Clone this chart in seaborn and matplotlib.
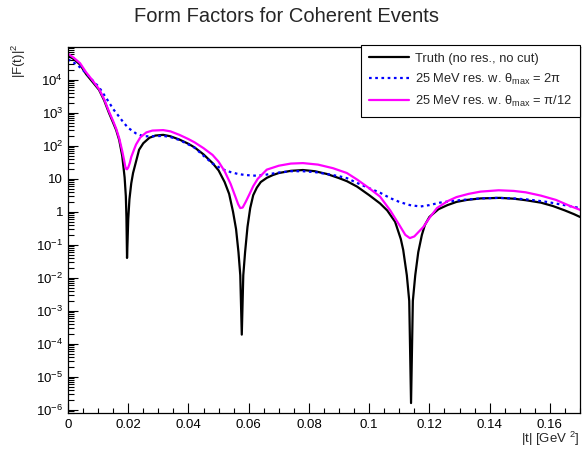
import numpy as np
import pandas as pd
import matplotlib
matplotlib.use("Agg")
import matplotlib.pyplot as plt
import matplotlib.ticker as mticker
import seaborn as sns

# values (|t| in GeV^2, |F(t)|^2)
t_truth = [0.000, 0.002, 0.004, 0.006, 0.008, 0.0103, 0.012, 0.0136, 0.015, 0.016,
           0.017, 0.018, 0.0188, 0.0192, 0.0194, 0.0196, 0.0198, 0.0200, 0.0204, 0.021,
           0.0216, 0.0236, 0.025, 0.027, 0.029, 0.0316, 0.034, 0.037, 0.040, 0.042,
           0.045, 0.048, 0.050, 0.052, 0.0535, 0.0548, 0.0558, 0.0566, 0.0572, 0.0577,
           0.0582, 0.0588, 0.0596, 0.0605, 0.0615, 0.0627, 0.064, 0.066, 0.068, 0.070,
           0.074, 0.078, 0.082, 0.086, 0.090, 0.0926, 0.096, 0.100, 0.1036, 0.106,
           0.1086, 0.1105, 0.1113, 0.1125, 0.1133, 0.1139, 0.1145, 0.1153, 0.1163, 0.1175,
           0.1185, 0.120, 0.123, 0.126, 0.129, 0.1325, 0.137, 0.1434, 0.148, 0.152,
           0.157, 0.161, 0.165, 0.168, 0.170]
f_truth = [5.5e4, 4.2e4, 2.9e4, 1.5e4, 9.0e3, 5.0e3, 2.4e3, 1.0e3, 500, 300,
           150, 50, 11, 3.0, 0.7, 0.04, 0.15, 0.6, 2.4, 7.3,
           15, 76, 120, 175, 205, 215, 195, 155, 115, 90,
           55, 30, 18, 8, 3.5, 1.0, 0.3, 0.06, 0.012, 1.9e-4,
           0.012, 0.06, 0.35, 1.3, 3.2, 5.4, 8, 10.7, 13, 15,
           17.5, 18.5, 17, 14, 10.5, 8.5, 5.8, 3.2, 1.8, 1.1,
           0.5, 0.15, 0.07, 0.012, 2e-3, 1.6e-6, 2e-3, 0.012, 0.06, 0.2,
           0.4, 0.7, 1.2, 1.6, 2.0, 2.3, 2.55, 2.65, 2.5, 2.25,
           1.9, 1.5, 1.1, 0.85, 0.7]

t_blue = [0.000, 0.002, 0.004, 0.006, 0.008, 0.0103, 0.012, 0.0136, 0.015, 0.017,
          0.0185, 0.020, 0.0225, 0.025, 0.028, 0.0316, 0.034, 0.037, 0.040, 0.042,
          0.045, 0.048, 0.051, 0.054, 0.0565, 0.059, 0.062, 0.065, 0.068, 0.070,
          0.074, 0.078, 0.082, 0.086, 0.090, 0.0926, 0.096, 0.100, 0.1036, 0.107,
          0.110, 0.1135, 0.117, 0.120, 0.1235, 0.127, 0.131, 0.137, 0.1425, 0.148,
          0.153, 0.159, 0.164, 0.170]
f_blue = [4.2e4, 3.3e4, 2.4e4, 1.6e4, 1.0e4, 6.0e3, 3.5e3, 2.1e3, 1.3e3, 760,
          500, 350, 240, 195, 195, 200, 185, 150, 110, 88,
          50, 29, 20, 16, 14, 13, 12.5, 13, 14.5, 15.5,
          17, 17, 16, 14, 12, 10.5, 7.5, 5.2, 3.8, 2.6,
          2.0, 1.6, 1.45, 1.6, 1.9, 2.1, 2.3, 2.55, 2.65, 2.55,
          2.35, 2.0, 1.65, 1.3]

t_pink = [0.000, 0.002, 0.004, 0.006, 0.008, 0.0103, 0.012, 0.0136, 0.015, 0.016,
          0.017, 0.018, 0.0186, 0.019, 0.0193, 0.0196, 0.020, 0.0205, 0.021, 0.022,
          0.0226, 0.024, 0.026, 0.028, 0.0316, 0.034, 0.037, 0.040, 0.042, 0.045,
          0.048, 0.050, 0.052, 0.054, 0.0555, 0.0565, 0.0572, 0.058, 0.059, 0.0603,
          0.0615, 0.063, 0.066, 0.070, 0.074, 0.078, 0.083, 0.088, 0.0926, 0.096,
          0.100, 0.1036, 0.107, 0.110, 0.112, 0.1135, 0.115, 0.118, 0.120, 0.1225,
          0.126, 0.129, 0.133, 0.137, 0.143, 0.148, 0.152, 0.157, 0.162, 0.166,
          0.170]
f_pink = [6.2e4, 4.6e4, 3.2e4, 1.7e4, 1.0e4, 5.3e3, 2.6e3, 1.1e3, 560, 330,
          170, 70, 38, 24, 20, 19.5, 22, 30, 46, 80,
          110, 180, 255, 290, 300, 275, 215, 160, 128, 85,
          53, 33, 17, 7, 3, 1.7, 1.3, 1.35, 2.0, 3.5,
          6, 10, 19, 25, 29, 30, 27, 21, 15, 9.5,
          5.2, 2.9, 1.1, 0.4, 0.2, 0.16, 0.18, 0.35, 0.65, 1.3,
          2.1, 2.8, 3.5, 4.1, 4.5, 4.3, 3.9, 3.1, 2.3, 1.6,
          1.15]

labels = ["Truth (no res., no cut)",
          "25 MeV res. w. θ$_{\\rm max}$ = 2π",
          "25 MeV res. w. θ$_{\\rm max}$ = π/12"]
y_decades = [-6, -5, -4, -3, -2, -1, 0, 1, 2, 3, 4]

sns.set_theme(style="white")
plt.rcParams["font.family"] = ["Liberation Sans", "DejaVu Sans"]
plt.rcParams["mathtext.fontset"] = "custom"
plt.rcParams["mathtext.rm"] = "Liberation Sans"
plt.rcParams["mathtext.default"] = "regular"

fig = plt.figure(figsize=(5.83, 4.49), dpi=100)
ax = fig.add_axes([68 / 583, 1 - 413 / 449, 512 / 583, 366 / 449])

sns.lineplot(x=t_truth, y=f_truth, ax=ax, color="black", linewidth=1.6,
             label=labels[0], sort=False)
sns.lineplot(x=t_blue, y=f_blue, ax=ax, color="#0000ff", linewidth=1.6,
             linestyle=(0, (1.2, 1.6)), label=labels[1], sort=False)
sns.lineplot(x=t_pink, y=f_pink, ax=ax, color="#ff00ff", linewidth=1.6,
             label=labels[2], sort=False)

ax.set_yscale("log")
ax.set_xlim(0, 0.17)
ax.set_ylim(8e-7, 9.9e4)


def log_label(n):
    if n == 0:
        return "1"
    if n == 1:
        return "10"
    return "$10^{%d}$" % n


ax.set_yticks([10.0 ** n for n in y_decades])
ax.set_yticklabels([log_label(n) for n in y_decades])
minor = [m * 10.0 ** n for n in range(-7, 5) for m in range(2, 10)]
ax.set_yticks([v for v in minor if 8e-7 <= v <= 9.9e4], minor=True)
ax.yaxis.set_minor_formatter(mticker.NullFormatter())
ax.set_ylim(8e-7, 9.9e4)
ax.xaxis.set_major_locator(mticker.MultipleLocator(0.02))
ax.xaxis.set_minor_locator(mticker.MultipleLocator(0.005))
ax.xaxis.set_major_formatter(mticker.FuncFormatter(lambda v, p: "0" if v == 0 else ("%g" % v)))

ax.tick_params(which="both", direction="in", bottom=True, left=True, top=False,
               right=False, colors="black", labelsize=9.5, width=0.8)
ax.tick_params(axis="x", which="major", length=7, pad=4)
ax.tick_params(axis="x", which="minor", length=3.8)
ax.tick_params(axis="y", which="major", length=7.5, pad=3.5)
ax.tick_params(axis="y", which="minor", length=4.5)
for s in ax.spines.values():
    s.set_color("black")
    s.set_linewidth(0.9)

leg = ax.legend(loc="upper right", bbox_to_anchor=(1.0, 1.006), fontsize=9.3,
                frameon=True, fancybox=False, framealpha=1, edgecolor="black",
                handlelength=3.1, handletextpad=0.5, borderpad=0.6,
                labelspacing=0.55, borderaxespad=0)
leg.get_frame().set_linewidth(0.8)

fig.text(286 / 583, 1 - 17 / 449, "Form Factors for Coherent Events", ha="center",
         va="center", fontsize=14.5)
fig.text(19 / 583, 1 - 44 / 449, "|F(t)|$^{2}$", rotation=90, ha="center", va="top",
         fontsize=9.5)
fig.text(580 / 583, 1 - 443 / 449, "|t| [GeV $^{2}$]", ha="right", va="baseline",
         fontsize=9.5)

fig.savefig("out.png", dpi=100)
